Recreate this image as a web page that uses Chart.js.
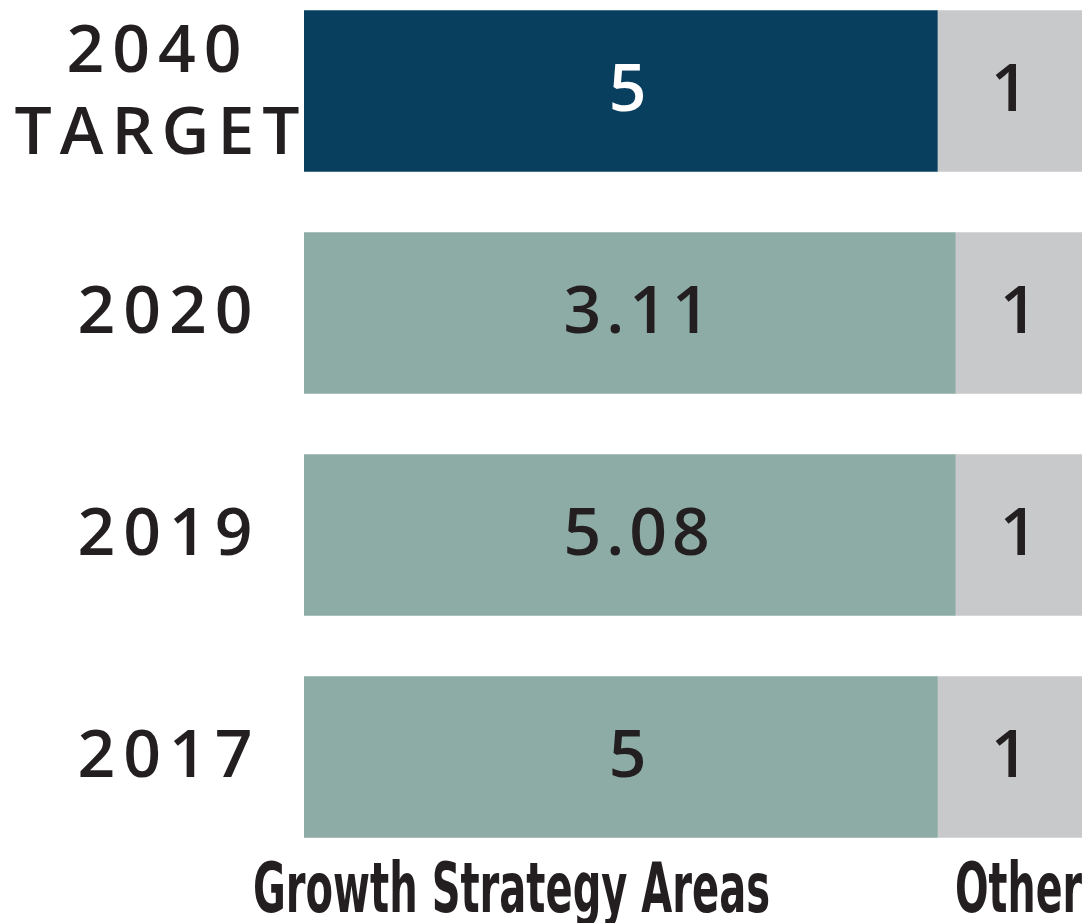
<!DOCTYPE html>
<html>
<head>
<meta charset="utf-8">
<script src="https://cdn.jsdelivr.net/npm/chart.js@4"></script>
<style>
html,body{margin:0;padding:0;background:#fff;}
#wrap{width:1089px;height:923px;position:relative;}
</style>
</head>
<body>
<div id="wrap"><canvas id="c"></canvas></div>
<script>
// ---- data ----
const categories = [['2040','TARGET'], '2020', '2019', '2017'];
const ratioLabels = ['5', '3.11', '5.08', '5'];
const otherLabels = ['1', '1', '1', '1'];
// share of bar length drawn for each segment (percent)
const growthShare = [81.4, 83.7, 83.7, 81.4];
const otherShare = [18.6, 16.3, 16.3, 18.6];
const growthColors = ['#083F5F', '#8DACA6', '#8DACA6', '#8DACA6'];
const growthTextColors = ['#FFFFFF', '#231F20', '#231F20', '#231F20'];
const axisLabels = ['Growth Strategy Areas', 'Other'];

const DARK = '#231F20';

function spacedCenter(ctx, txt, cx, y, spacing) {
  const w = ctx.measureText(txt).width - spacing;
  ctx.textAlign = 'left';
  ctx.fillText(txt, cx - w / 2, y);
}

const labelPlugin = {
  id: 'labels',
  afterDatasetsDraw(chart) {
    const ctx = chart.ctx;
    ctx.save();
    ctx.letterSpacing = '5px';
    ctx.font = '600 66px "Open Sans"';
    ctx.textBaseline = 'middle';
    chart.data.datasets.forEach((ds, di) => {
      const meta = chart.getDatasetMeta(di);
      meta.data.forEach((bar, i) => {
        const txt = di === 0 ? ratioLabels[i] : otherLabels[i];
        ctx.fillStyle = di === 0 ? growthTextColors[i] : DARK;
        const cx = (bar.base + bar.x) / 2 + (di === 0 ? 7 : 0);
        spacedCenter(ctx, txt, cx, bar.y + 1, 5);
      });
    });
    ctx.restore();
  },
  afterDraw(chart) {
    const ctx = chart.ctx;
    const a = chart.chartArea;
    const yScale = chart.scales.y;
    ctx.save();
    ctx.letterSpacing = '8px';
    ctx.font = '600 66px "Open Sans"';
    ctx.fillStyle = DARK;
    ctx.textBaseline = 'middle';
    categories.forEach((c, i) => {
      const y = yScale.getPixelForValue(i);
      if (Array.isArray(c)) {
        spacedCenter(ctx, c[0], a.left - 150, y - 38, 8);
        spacedCenter(ctx, c[1], a.left - 147, y + 44, 8);
      } else {
        spacedCenter(ctx, c, a.left - 139, y + 1, 8);
      }
    });
    ctx.restore();

    ctx.save();
    ctx.letterSpacing = '0px';
    ctx.fillStyle = DARK;
    ctx.textBaseline = 'alphabetic';
    ctx.font = 'bold 70px "Liberation Sans Narrow", "DejaVu Sans Condensed", "Liberation Sans", sans-serif';
    const base = 912;
    const t1 = axisLabels[0];
    const w1 = ctx.measureText(t1).width;
    const target1 = 517;
    ctx.save();
    ctx.translate(a.left - 51, base);
    ctx.scale(target1 / w1, 1);
    ctx.textAlign = 'left';
    ctx.fillText(t1, 0, 0);
    ctx.restore();
    const t2 = axisLabels[1];
    const w2 = ctx.measureText(t2).width;
    const target2 = 127;
    ctx.save();
    ctx.translate(a.right - target2, base);
    ctx.scale(target2 / w2, 1);
    ctx.textAlign = 'left';
    ctx.fillText(t2, 0, 0);
    ctx.restore();
    ctx.restore();
  }
};

new Chart(document.getElementById('c'), {
  type: 'bar',
  data: {
    datasets: [
      {
        label: axisLabels[0],
        data: categories.map((c, i) => ({ y: i, x: growthShare[i] })),
        backgroundColor: growthColors,
        borderWidth: 0,
        barThickness: 161
      },
      {
        label: axisLabels[1],
        data: categories.map((c, i) => ({ y: i, x: otherShare[i] })),
        backgroundColor: '#C8C9CB',
        borderWidth: 0,
        barThickness: 161
      }
    ]
  },
  options: {
    indexAxis: 'y',
    responsive: true,
    maintainAspectRatio: false,
    animation: false,
    layout: { padding: { top: 0, bottom: 75, right: 7, left: 0 } },
    plugins: { legend: { display: false }, tooltip: { enabled: false } },
    scales: {
      x: {
        type: 'linear',
        stacked: true,
        min: 0,
        max: 100,
        display: false
      },
      y: {
        type: 'linear',
        stacked: true,
        reverse: true,
        offset: false,
        min: -0.41,
        max: 3.41,
        grid: { display: false, offset: false },
        border: { display: false },
        ticks: { display: false },
        afterFit(scale) { scale.width = 304; }
      }
    }
  },
  plugins: [labelPlugin]
});
</script>
</body>
</html>
